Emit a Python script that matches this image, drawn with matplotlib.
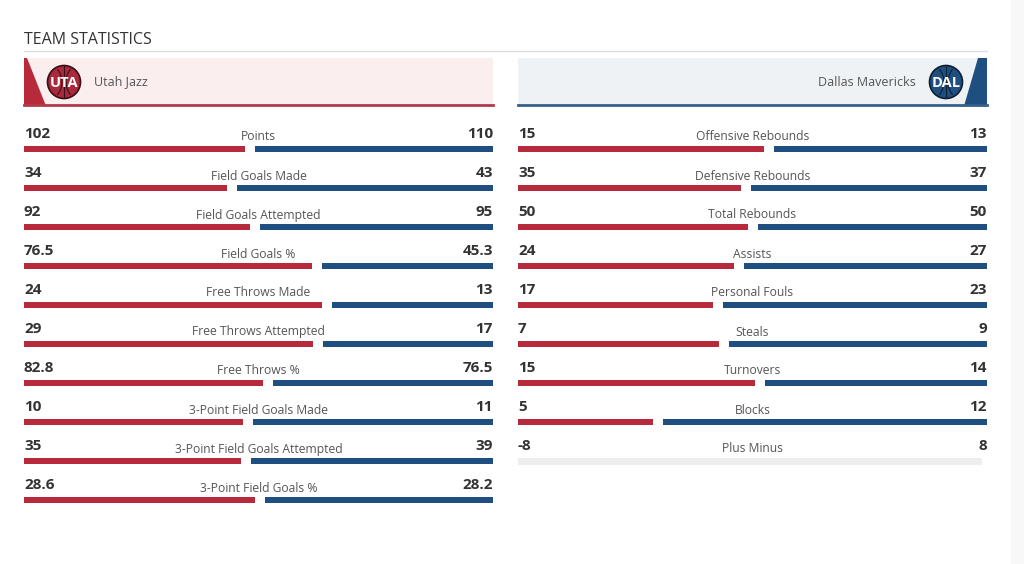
import matplotlib
matplotlib.use("Agg")
import matplotlib.pyplot as plt
from matplotlib.patches import Polygon, Circle, Rectangle, Arc

plt.rcParams['font.family'] = ['Open Sans', 'DejaVu Sans']

title = "TEAM STATISTICS"
home_team = "Utah Jazz"
away_team = "Dallas Mavericks"
home_abbr = "UTA"
away_abbr = "DAL"

left_labels = ["Points", "Field Goals Made", "Field Goals Attempted", "Field Goals %",
               "Free Throws Made", "Free Throws Attempted", "Free Throws %",
               "3-Point Field Goals Made", "3-Point Field Goals Attempted", "3-Point Field Goals %"]
left_home = [102, 34, 92, 76.5, 24, 29, 82.8, 10, 35, 28.6]
left_away = [110, 43, 95, 45.3, 13, 17, 76.5, 11, 39, 28.2]

right_labels = ["Offensive Rebounds", "Defensive Rebounds", "Total Rebounds", "Assists",
                "Personal Fouls", "Steals", "Turnovers", "Blocks", "Plus Minus"]
right_home = [15, 35, 50, 24, 17, 7, 15, 5, -8]
right_away = [13, 37, 50, 27, 23, 9, 14, 12, 8]

RED = "#b72a3c"
BLUE = "#1f4f80"
TXT = "#333333"
LBL = "#555555"

fig = plt.figure(figsize=(10.24, 5.64), dpi=100)
ax = fig.add_axes([0, 0, 1, 1])
ax.set_xlim(0, 1024)
ax.set_ylim(564, 0)
ax.axis("off")

# right-edge faint strip
ax.add_patch(Rectangle((1011, 0), 13, 564, color="#f8f8f8", lw=0))

# title
ax.text(24, 40, title, fontsize=11.5, color="#333333", va="center", ha="left")
ax.plot([24, 987], [50.5, 50.5], color="#dddddd", lw=1)

# headers
ax.add_patch(Rectangle((24, 58), 469, 48, color="#fbeeef", lw=0))
ax.add_patch(Polygon([(24, 58), (27, 58), (46, 106), (24, 106)], color=RED, lw=0))
ax.plot([24, 493], [105, 105], color="#b23a4a", lw=2)
ax.add_patch(Rectangle((518, 58), 469, 48, color="#eff2f5", lw=0))
ax.add_patch(Polygon([(987, 58), (978, 58), (964, 106), (987, 106)], color=BLUE, lw=0))
ax.plot([518, 987], [105, 105], color="#365f8a", lw=2)


def logo(cx, cy, fill, edge, abbr):
    ax.add_patch(Circle((cx, cy), 16.5, facecolor=fill, edgecolor=edge, lw=1.2, zorder=3))
    ax.add_patch(Arc((cx - 22, cy), 40, 40, theta1=-40, theta2=40, color=edge, lw=0.8, zorder=4))
    ax.add_patch(Arc((cx + 22, cy), 40, 40, theta1=140, theta2=220, color=edge, lw=0.8, zorder=4))
    ax.plot([cx, cx], [cy - 16, cy + 16], color=edge, lw=0.8, zorder=4)
    ax.text(cx, cy + 1, abbr, fontsize=10.5, fontweight="bold", color="white",
            ha="center", va="center", zorder=5)


logo(64, 82, "#a82a3c", "#3a0e14", home_abbr)
logo(946, 82, "#1f4f80", "#0d1f33", away_abbr)
ax.text(94, 82, home_team, fontsize=9, color=LBL, ha="left", va="center")
ax.text(916, 82, away_team, fontsize=9, color=LBL, ha="right", va="center")


def fmt(v):
    return f"{v:g}"


def panel(x0, labels, home, away, y0=134, step=39, width=469, gap=10):
    for i, (lab, h, a) in enumerate(zip(labels, home, away)):
        yv = y0 + i * step
        yb = yv + 15
        ax.text(x0, yv, fmt(h), fontsize=11, fontweight="bold", color=TXT, ha="left", va="center")
        ax.text(x0 + width, yv, fmt(a), fontsize=11, fontweight="bold", color=TXT, ha="right", va="center")
        ax.text(x0 + width / 2, yv + 3, lab, fontsize=8.7, color=LBL, ha="center", va="center")
        if h < 0 or a < 0:
            ax.barh(yb, width - 5, left=x0, height=7, color="#eeeeee")
            continue
        avail = width - gap
        wh = avail * h / (h + a)
        wa = avail * a / (h + a)
        ax.barh(yb, wh, left=x0, height=6.5, color=RED)
        ax.barh(yb, wa, left=x0 + width - wa, height=6.5, color=BLUE)


panel(24, left_labels, left_home, left_away)
panel(518, right_labels, right_home, right_away)

fig.savefig("out.png", dpi=100, facecolor="white")
